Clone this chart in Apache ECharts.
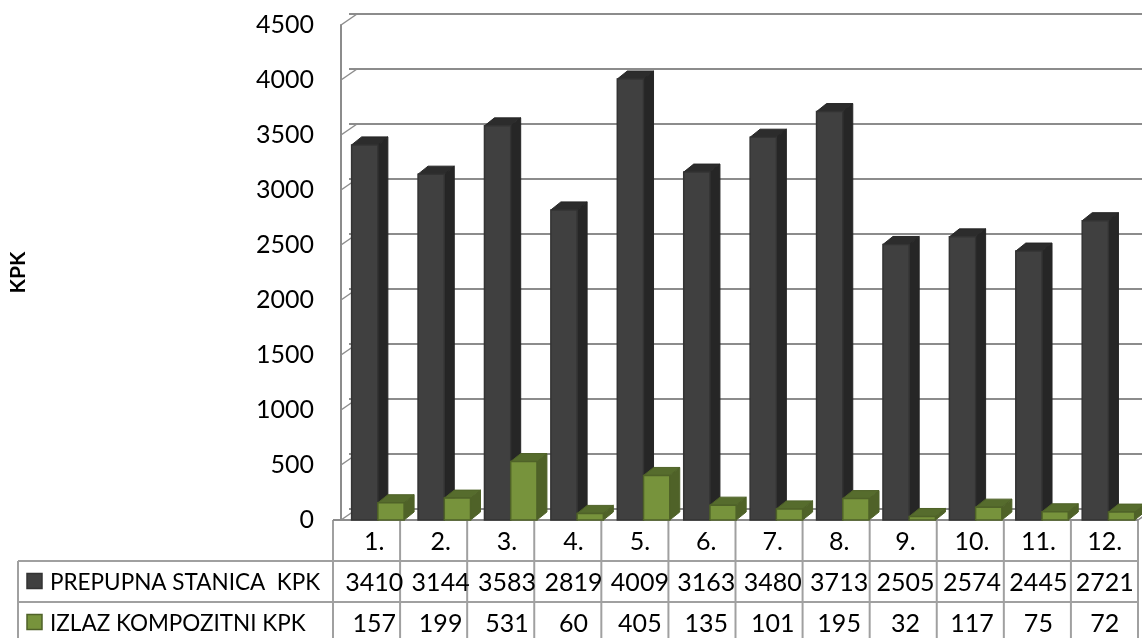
<!DOCTYPE html>
<html>
<head>
<meta charset="utf-8">
<title>KPK</title>
<script src="https://cdn.jsdelivr.net/npm/echarts@6/dist/echarts.min.js"></script>
<style>
  html, body { margin: 0; padding: 0; background: #fff; }
  #chart { width: 1142px; height: 638px; }
</style>
</head>
<body>
<div id="chart"></div>
<script>
// data
const categories = ['1.', '2.', '3.', '4.', '5.', '6.', '7.', '8.', '9.', '10.', '11.', '12.'];
const prepupna = [3410, 3144, 3583, 2819, 4009, 3163, 3480, 3713, 2505, 2574, 2445, 2721];
const izlaz = [157, 199, 531, 60, 405, 135, 101, 195, 32, 117, 75, 72];
const yTicks = [0, 500, 1000, 1500, 2000, 2500, 3000, 3500, 4000, 4500];
const seriesNames = ['PREPUPNA STANICA  KPK', 'IZLAZ KOMPOZITNI KPK'];

// layout
const FONT = 'Lato, "Liberation Sans", sans-serif';
const FS = 25;
const G = { left: 333, top: 25, width: 805, height: 495 };
const DEPTH_X = 16, DEPTH_Y = -11;   // back wall offset
const BAR_DX = 10, BAR_DY = -8;      // bar depth
const ROW_H = 41;
const LINE = '#8c8c8c';
const TABLE_LINE = '#a0a0a0';

const colors = [
  { front: '#404040', side: '#262626', top: '#2c2c2c', edge: '#333333' },
  { front: '#77933c', side: '#4f6228', top: '#566c2d', edge: '#4f6228' }
];

function box3d(seriesIdx) {
  return function (params, api) {
    const idx = api.value(0);
    const top = api.coord([idx, api.value(1)]);
    const base = api.coord([idx, 0]);
    const bw = api.size([1, 0])[0];
    const left = top[0] - bw / 2;
    const w = bw * 0.395;
    const x0 = left + bw * (0.16 + seriesIdx * 0.395);
    const y1 = top[1], y0 = base[1];
    const c = colors[seriesIdx];
    return {
      type: 'group',
      children: [
        {
          type: 'polygon',
          shape: { points: [[x0 + w, y1], [x0 + w + BAR_DX, y1 + BAR_DY], [x0 + w + BAR_DX, y0 + BAR_DY], [x0 + w, y0]] },
          style: { fill: c.side, stroke: c.side, lineWidth: 1 }
        },
        {
          type: 'polygon',
          shape: { points: [[x0, y1], [x0 + w, y1], [x0 + w + BAR_DX, y1 + BAR_DY], [x0 + BAR_DX, y1 + BAR_DY]] },
          style: { fill: c.top, stroke: c.side, lineWidth: 1 }
        },
        {
          type: 'rect',
          shape: { x: x0, y: y1, width: w, height: y0 - y1 },
          style: { fill: c.front, stroke: c.edge, lineWidth: 1.5 }
        }
      ]
    };
  };
}

// little slanted connectors from the front axis to the back wall
function wallTicks(params, api) {
  const p = api.coord([0, api.value(0)]);
  const x = params.coordSys.x;
  const xr = x + params.coordSys.width;
  const children = [{
    type: 'line',
    shape: { x1: x, y1: p[1], x2: x + DEPTH_X, y2: p[1] + DEPTH_Y },
    style: { stroke: LINE, lineWidth: 1.5 }
  }];
  if (api.value(0) === 0) {
    children.push({
      type: 'line',
      shape: { x1: xr, y1: p[1], x2: xr + DEPTH_X, y2: p[1] + DEPTH_Y },
      style: { stroke: LINE, lineWidth: 1.5 }
    });
  }
  return { type: 'group', children };
}

// data table cells: one column per category, placed by the category axis
function tableCells(params, api) {
  const idx = api.value(0);
  const p = api.coord([idx, 0]);
  const cells = [categories[idx], String(prepupna[idx]), String(izlaz[idx])];
  return {
    type: 'group',
    children: cells.map((t, row) => ({
      type: 'text',
      x: p[0],
      y: p[1] + row * ROW_H + ROW_H / 2 + 1,
      style: {
        text: t,
        fill: '#000',
        font: FS + 'px ' + FONT,
        textAlign: 'center',
        textVerticalAlign: 'middle'
      }
    }))
  };
}

const chart = echarts.init(document.getElementById('chart'));

// data table grid lines + legend keys
function tableGraphics() {
  const out = [];
  const tTop = G.top + G.height;
  const colW = G.width / categories.length;
  const r1 = tTop + ROW_H, r2 = r1 + ROW_H, r3 = r2 + ROW_H;
  const tableLeft = 18;
  const lineStyle = { stroke: TABLE_LINE, lineWidth: 2 };
  out.push({ type: 'line', shape: { x1: G.left, y1: tTop, x2: G.left + G.width, y2: tTop }, style: { stroke: LINE, lineWidth: 2 }, z: 1 });
  [r1, r2, r3].forEach(y => {
    out.push({ type: 'line', shape: { x1: tableLeft, y1: y, x2: G.left + G.width, y2: y }, style: lineStyle });
  });
  out.push({ type: 'line', shape: { x1: tableLeft, y1: r1, x2: tableLeft, y2: r3 }, style: lineStyle });
  for (let i = 0; i <= categories.length; i++) {
    const x = G.left + i * colW;
    out.push({ type: 'line', shape: { x1: x, y1: tTop, x2: x, y2: r3 }, style: lineStyle });
  }
  seriesNames.forEach((name, i) => {
    const cy = r1 + ROW_H * i + ROW_H / 2;
    out.push({
      type: 'rect',
      shape: { x: 27, y: cy - 8, width: 15, height: 15 },
      style: { fill: colors[i].front, stroke: colors[i].edge, lineWidth: 1.5 }
    });
    out.push({
      type: 'text',
      x: 50, y: cy + 1,
      style: { text: name, fill: '#000', font: '22.5px ' + FONT, textVerticalAlign: 'middle' }
    });
  });
  return out;
}

const option = {
  animation: false,
  backgroundColor: '#fff',
  grid: [
    { left: G.left, top: G.top, width: G.width, height: G.height },
    { left: G.left + DEPTH_X, top: G.top + DEPTH_Y, width: G.width, height: G.height }
  ],
  xAxis: [
    {
      type: 'category',
      gridIndex: 0,
      data: categories,
      axisLine: { show: false },
      axisTick: { show: false },
      axisLabel: { show: false }
    },
    {
      type: 'category',
      gridIndex: 1,
      data: categories,
      show: false
    }
  ],
  yAxis: [
    {
      type: 'value',
      gridIndex: 0,
      min: 0,
      max: 4500,
      interval: 500,
      name: 'KPK',
      nameLocation: 'middle',
      nameRotate: 90,
      nameGap: G.left - 21,
      nameTextStyle: { fontFamily: FONT, fontSize: 21, fontWeight: 'bold', color: '#000' },
      axisLine: { show: true, lineStyle: { color: LINE, width: 2 } },
      axisTick: { show: false },
      splitLine: { show: false },
      axisLabel: { margin: 27, fontFamily: FONT, fontSize: FS, color: '#000', formatter: v => String(v) }
    },
    {
      type: 'value',
      gridIndex: 1,
      min: 0,
      max: 4500,
      interval: 500,
      axisLine: { show: false },
      axisTick: { show: false },
      axisLabel: { show: false },
      splitLine: { show: true, lineStyle: { color: LINE, width: 2 } }
    }
  ],
  series: [
    {
      type: 'custom',
      name: 'wall',
      xAxisIndex: 0,
      yAxisIndex: 0,
      silent: true,
      renderItem: wallTicks,
      data: yTicks.map(v => [v]),
      encode: { y: 0 },
      z: 1
    },
    {
      type: 'custom',
      name: seriesNames[0],
      xAxisIndex: 0,
      yAxisIndex: 0,
      renderItem: box3d(0),
      data: prepupna.map((v, i) => [i, v]),
      encode: { x: 0, y: 1 },
      z: 3
    },
    {
      type: 'custom',
      name: seriesNames[1],
      xAxisIndex: 0,
      yAxisIndex: 0,
      renderItem: box3d(1),
      data: izlaz.map((v, i) => [i, v]),
      encode: { x: 0, y: 1 },
      z: 4
    },
    {
      type: 'custom',
      name: 'table',
      xAxisIndex: 0,
      yAxisIndex: 0,
      silent: true,
      clip: false,
      renderItem: tableCells,
      data: categories.map((c, i) => [i]),
      encode: { x: 0 },
      z: 5
    }
  ],
  graphic: tableGraphics()
};

chart.setOption(option);
</script>
</body>
</html>
